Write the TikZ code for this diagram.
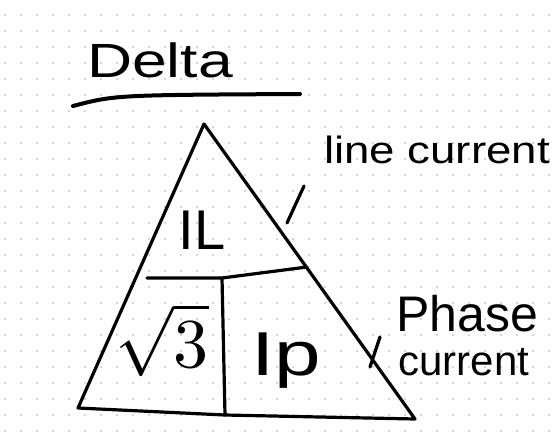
\documentclass[tikz,border=0pt]{standalone}
\usepackage{amsmath}
\usepackage{fontspec}
\setmainfont{Liberation Sans}
\newcommand{\Hand}[1]{\fontsize{#1}{#1}\selectfont}

\begin{document}
\begin{tikzpicture}[x=1pt,y=-1pt,line cap=round,line join=round,
  pen/.style={line width=3.2pt},
  note/.style={anchor=base, inner sep=0pt}]

\useasboundingbox[fill=white] (0,0) rectangle (560,432);
% dotted paper
\foreach \i in {0,...,34} {
  \foreach \j in {0,...,26} {
    \fill[black!22] (5+16*\i,15+16*\j) circle (1.1);
  }
}

% title
\draw(160,77) node[note, xscale=1.3] (title) {\Hand{48}Delta};
\coordinate (ulA) at (73,106);
\coordinate (ulB) at (300,94);
\draw[line width=4pt] (ulA) .. controls (115,95) .. (ulB);

% triangle
\coordinate (top) at (204,124);
\coordinate (BL) at (78,408);
\coordinate (BR) at (415,419);
\coordinate (ML) at (147,278);
\coordinate (MR) at (307,267);
\coordinate (MT) at (222,278);
\coordinate (MB) at (225,415);
\draw[pen] (BL) -- (top) -- (BR) -- (MB) -- cycle;
\draw[pen] (ML) -- (MT) -- (MR);
\draw[pen] (MT) -- (MB);

\draw(202,249) node[note] (IL) {\Hand{56}IL};
\draw(162,340) node[scale=7] (root) {$\sqrt{3}$};
\draw(286,375) node[note, xscale=1.35] (Ip) {\Hand{62}Ip};

% side notes
\draw(437,163) node[note, xscale=1.2] (line) {\Hand{38}line current};
\draw(467,331) node[note] (phase) {\Hand{50}Phase};
\draw(464,375) node[note] (cur) {\Hand{42}current};
\coordinate (tickA) at (304,186);
\coordinate (tickB) at (287,223);
\coordinate (tickC) at (380,337);
\coordinate (tickD) at (370,367);
\draw[pen] (tickA) -- (tickB);
\draw[pen] (tickC) -- (tickD);

\end{tikzpicture}
\end{document}
